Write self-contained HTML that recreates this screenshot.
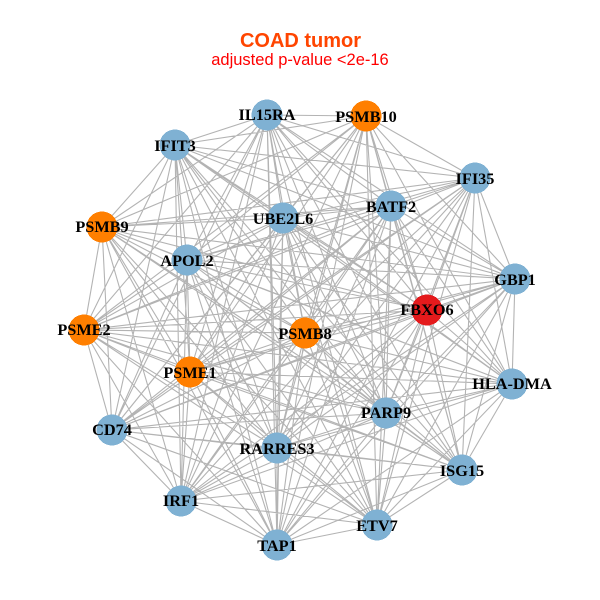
<!DOCTYPE html>
<html><head><meta charset="utf-8"><style>
html,body{margin:0;padding:0;background:#fff}
svg{display:block}
.n{font:bold 16.3px "Liberation Serif",serif;fill:#000;text-anchor:middle}
circle{shape-rendering:crispEdges}
</style></head><body>
<svg width="600" height="600" viewBox="0 0 600 600" xmlns="http://www.w3.org/2000/svg">
<rect width="600" height="600" fill="#fff"/>
<path fill="none" stroke="#b3b3b3" stroke-width="1.1" d="
M267 115L366 116M267 115L175 145M267 115L475 178M267 115L391 206M267 115L283 218M267 115L102 227M267 115L187 260M267 115L515 279M267 115L427 310M267 115L305 333M267 115L84 330M267 115L190 372M267 115L512 384M267 115L386 413M267 115L112 430M267 115L277 448M267 115L462 470M267 115L181 501M267 115L377 525M267 115L277 545
M366 116L175 145M366 116L475 178M366 116L391 206M366 116L283 218M366 116L102 227M366 116L187 260M366 116L515 279M366 116L427 310M366 116L305 333M366 116L84 330M366 116L190 372M366 116L512 384M366 116L386 413M366 116L112 430M366 116L277 448M366 116L462 470M366 116L181 501M366 116L377 525M366 116L277 545
M175 145L475 178M175 145L391 206M175 145L283 218M175 145L102 227M175 145L187 260M175 145L515 279M175 145L427 310M175 145L305 333M175 145L84 330M175 145L190 372M175 145L512 384M175 145L386 413M175 145L112 430M175 145L277 448M175 145L462 470M175 145L181 501M175 145L377 525M175 145L277 545
M475 178L391 206M475 178L283 218M475 178L102 227M475 178L187 260M475 178L515 279M475 178L427 310M475 178L305 333M475 178L84 330M475 178L190 372M475 178L512 384M475 178L386 413M475 178L112 430M475 178L277 448M475 178L462 470M475 178L181 501M475 178L377 525M475 178L277 545
M391 206L283 218M391 206L102 227M391 206L187 260M391 206L515 279M391 206L427 310M391 206L305 333M391 206L84 330M391 206L190 372M391 206L512 384M391 206L386 413M391 206L112 430M391 206L277 448M391 206L462 470M391 206L181 501M391 206L377 525M391 206L277 545
M283 218L102 227M283 218L187 260M283 218L515 279M283 218L427 310M283 218L305 333M283 218L84 330M283 218L190 372M283 218L512 384M283 218L386 413M283 218L112 430M283 218L277 448M283 218L462 470M283 218L181 501M283 218L377 525M283 218L277 545
M102 227L187 260M102 227L515 279M102 227L427 310M102 227L305 333M102 227L84 330M102 227L190 372M102 227L512 384M102 227L386 413M102 227L112 430M102 227L277 448M102 227L462 470M102 227L181 501M102 227L377 525M102 227L277 545
M187 260L515 279M187 260L427 310M187 260L305 333M187 260L84 330M187 260L190 372M187 260L512 384M187 260L386 413M187 260L112 430M187 260L277 448M187 260L462 470M187 260L181 501M187 260L377 525M187 260L277 545
M515 279L427 310M515 279L305 333M515 279L84 330M515 279L190 372M515 279L512 384M515 279L386 413M515 279L112 430M515 279L277 448M515 279L462 470M515 279L181 501M515 279L377 525M515 279L277 545
M427 310L305 333M427 310L84 330M427 310L190 372M427 310L512 384M427 310L386 413M427 310L112 430M427 310L277 448M427 310L462 470M427 310L181 501M427 310L377 525M427 310L277 545
M305 333L84 330M305 333L190 372M305 333L512 384M305 333L386 413M305 333L112 430M305 333L277 448M305 333L462 470M305 333L181 501M305 333L377 525M305 333L277 545
M84 330L190 372M84 330L512 384M84 330L386 413M84 330L112 430M84 330L277 448M84 330L462 470M84 330L181 501M84 330L377 525M84 330L277 545
M190 372L512 384M190 372L386 413M190 372L112 430M190 372L277 448M190 372L462 470M190 372L181 501M190 372L377 525M190 372L277 545
M512 384L386 413M512 384L112 430M512 384L277 448M512 384L462 470M512 384L181 501M512 384L377 525M512 384L277 545
M386 413L112 430M386 413L277 448M386 413L462 470M386 413L181 501M386 413L377 525M386 413L277 545
M112 430L277 448M112 430L462 470M112 430L181 501M112 430L377 525M112 430L277 545
M277 448L462 470M277 448L181 501M277 448L377 525M277 448L277 545
M462 470L181 501M462 470L377 525M462 470L277 545
M181 501L377 525M181 501L277 545
M377 525L277 545"/>
<g fill="#7fb1d3">
<circle cx="267" cy="115" r="15.5"/><circle cx="175" cy="145" r="15.5"/><circle cx="475" cy="178" r="15.5"/><circle cx="391" cy="206" r="15.5"/><circle cx="283" cy="218" r="15.5"/><circle cx="187" cy="260" r="15.5"/><circle cx="515" cy="279" r="15.5"/><circle cx="512" cy="384" r="15.5"/><circle cx="386" cy="413" r="15.5"/><circle cx="112" cy="430" r="15.5"/><circle cx="277" cy="448" r="15.5"/><circle cx="462" cy="470" r="15.5"/><circle cx="181" cy="501" r="15.5"/><circle cx="377" cy="525" r="15.5"/><circle cx="277" cy="545" r="15.5"/>
</g>
<g fill="#ff7f00">
<circle cx="366" cy="116" r="15.5"/><circle cx="102" cy="227" r="15.5"/><circle cx="305" cy="333" r="15.5"/><circle cx="84" cy="330" r="15.5"/><circle cx="190" cy="372" r="15.5"/>
</g>
<circle cx="427" cy="310" r="15.5" fill="#e41a1c"/>
<text class="n" x="267" y="120">IL15RA</text>
<text class="n" x="366" y="122">PSMB10</text>
<text class="n" x="175" y="151">IFIT3</text>
<text class="n" x="475" y="184">IFI35</text>
<text class="n" x="391" y="212">BATF2</text>
<text class="n" x="283" y="224">UBE2L6</text>
<text class="n" x="102" y="232">PSMB9</text>
<text class="n" x="187" y="266">APOL2</text>
<text class="n" x="515" y="285">GBP1</text>
<text class="n" x="427" y="315">FBXO6</text>
<text class="n" x="305" y="339">PSMB8</text>
<text class="n" x="84" y="335">PSME2</text>
<text class="n" x="190" y="378">PSME1</text>
<text class="n" x="512" y="389">HLA-DMA</text>
<text class="n" x="386" y="418">PARP9</text>
<text class="n" x="112" y="435">CD74</text>
<text class="n" x="277" y="454">RARRES3</text>
<text class="n" x="462" y="476">ISG15</text>
<text class="n" x="181" y="506">IRF1</text>
<text class="n" x="377" y="531">ETV7</text>
<text class="n" x="277" y="551">TAP1</text>
<text x="300.5" y="47" text-anchor="middle" font-family="'Liberation Sans',sans-serif" font-weight="bold" font-size="20" fill="#ff4500">COAD tumor</text>
<text x="300" y="65" text-anchor="middle" font-family="'Liberation Sans',sans-serif" font-size="16.5" fill="#ff0000">adjusted p-value &lt;2e-16</text>
</svg>
</body></html>
